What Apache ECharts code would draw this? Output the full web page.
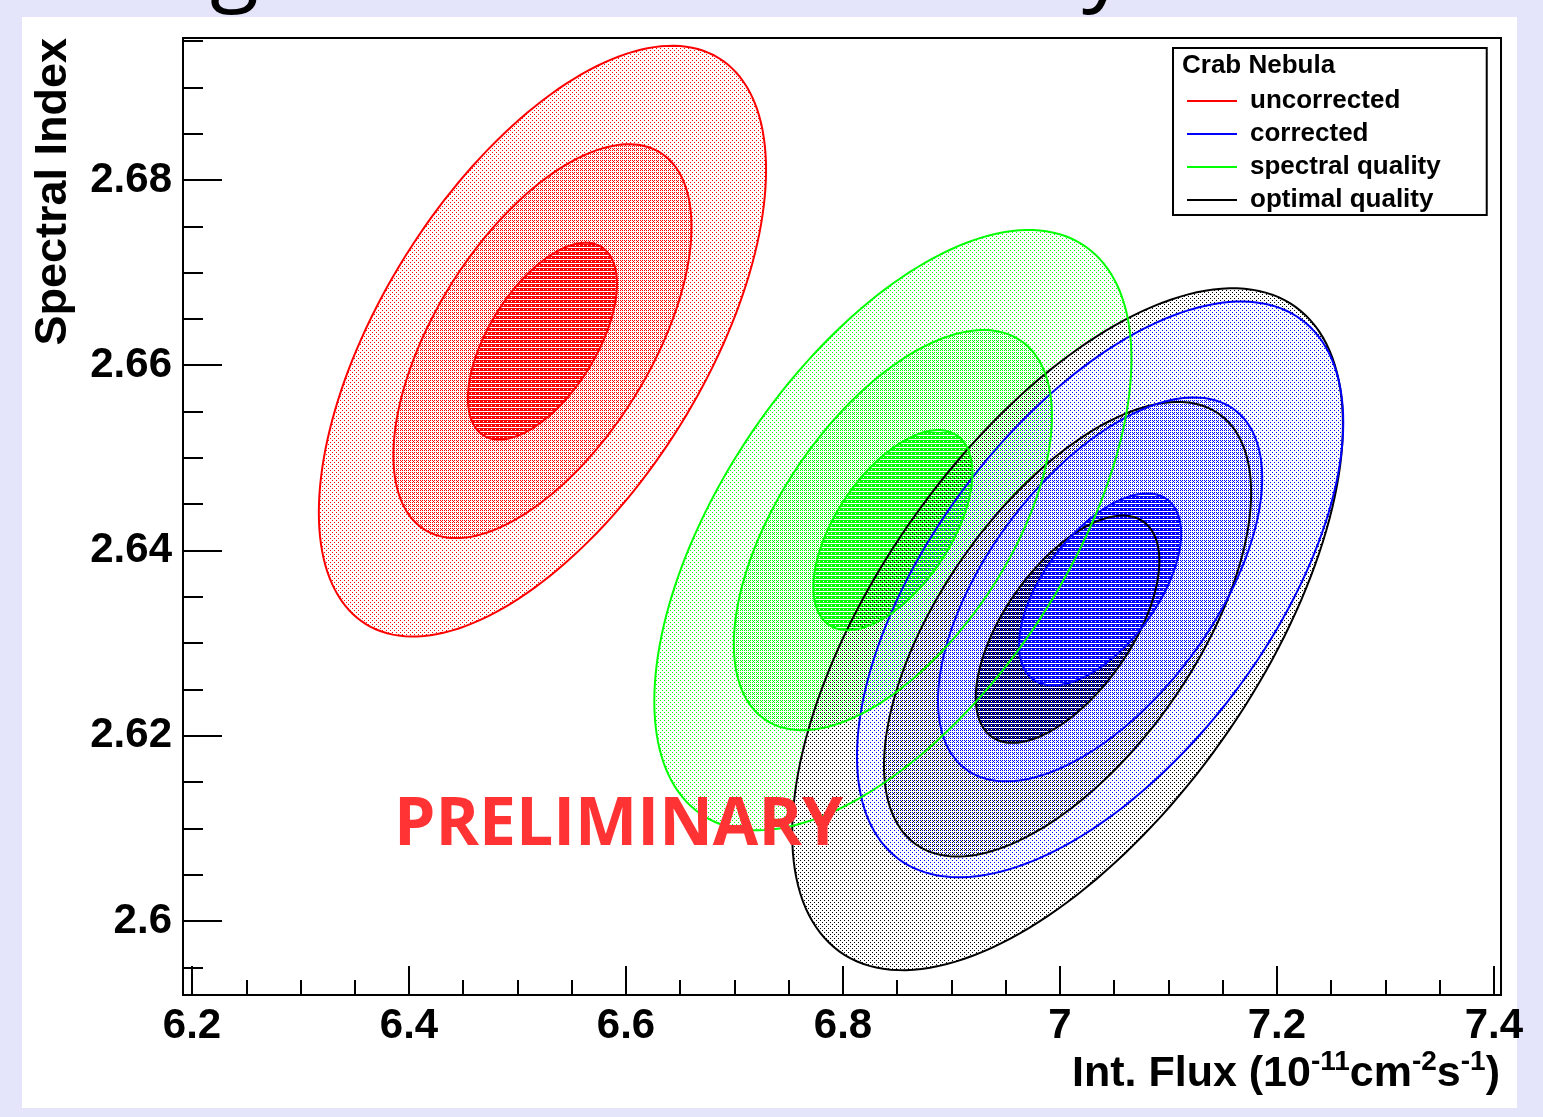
<!DOCTYPE html>
<html>
<head>
<meta charset="UTF-8">
<title>Crab Nebula</title>
<script src="https://cdn.jsdelivr.net/npm/echarts@6/dist/echarts.min.js"></script>
<style>
* { padding: 0; margin: 0; }
#main { width: 1543px; height: 1117px; }
</style>
</head>
<body>
<div id="main"></div>
<script>
// fit results, one entry per data set
var names = ['uncorrected', 'corrected', 'spectral quality', 'optimal quality'];
var colors = ['#ff0000', '#0000ff', '#00ff00', '#000000'];
var fluxMean = [6.523, 7.037, 6.846, 7.007];
var indexMean = [2.6626, 2.6358, 2.6422, 2.6315];
var fluxSigma = [0.0687, 0.0747, 0.0733, 0.0846];
var indexSigma = [0.01063, 0.01036, 0.0108, 0.01227];
var rho = [0.58, 0.58, 0.57, 0.6];
var sigmaLevels = [3, 2, 1];

// axis ticks
var xMajor = [6.2, 6.4, 6.6, 6.8, 7, 7.2, 7.4];
var xMinor = [6.25, 6.3, 6.35, 6.45, 6.5, 6.55, 6.65, 6.7, 6.75, 6.85, 6.9, 6.95,
              7.05, 7.1, 7.15, 7.25, 7.3, 7.35];
var yMajor = [2.6, 2.62, 2.64, 2.66, 2.68];
var yMinor = [2.595, 2.605, 2.61, 2.615, 2.625, 2.63, 2.635, 2.645, 2.65, 2.655,
              2.665, 2.67, 2.675, 2.685, 2.69, 2.695];

var FONT = 'Liberation Sans';

// dotted fill patterns, like the root hatch styles
var dotCells = {
    3: [[0, 0], [2, 2]],
    2: [[2, 0], [0, 2], [1, 1]],
    1: [[1, 0], [3, 0], [0, 1], [2, 1], [1, 2], [3, 2]]
};
function dots(color, cells) {
    var c = document.createElement('canvas');
    c.width = 4;
    c.height = 4;
    var g = c.getContext('2d');
    g.fillStyle = color;
    cells.forEach(function (p) { g.fillRect(p[0], p[1], 1, 1); });
    return { image: c, repeat: 'repeat' };
}
var fills = colors.map(function (col) {
    return { 3: dots(col, dotCells[3]), 2: dots(col, dotCells[2]), 1: dots(col, dotCells[1]) };
});

// one contour series; part = 'fill' or 'line'
function ellipseSeries(i, part) {
    return {
        type: 'custom',
        name: names[i],
        coordinateSystem: 'cartesian2d',
        xAxisIndex: 0,
        yAxisIndex: 0,
        clip: true,
        silent: true,
        itemStyle: { color: colors[i] },
        data: sigmaLevels.map(function (k) { return [fluxMean[i], indexMean[i], k]; }),
        encode: { x: 0, y: 1 },
        renderItem: function (params, api) {
            var k = api.value(2);
            var r = rho[i];
            var pts = [];
            for (var a = 0; a < 360; a += 2) {
                var t = a * Math.PI / 180;
                var fx = fluxMean[i] + k * fluxSigma[i] * Math.cos(t);
                var fy = indexMean[i] + k * indexSigma[i] * (r * Math.cos(t) + Math.sqrt(1 - r * r) * Math.sin(t));
                pts.push(api.coord([fx, fy]));
            }
            var style = part === 'fill'
                ? { fill: fills[i][k], stroke: null }
                : { fill: null, stroke: colors[i], lineWidth: 2 };
            return { type: 'polygon', shape: { points: pts }, style: style };
        }
    };
}

var labelStyle = { fontFamily: FONT, fontWeight: 'bold', fontSize: 42, color: '#000' };

var myChart = echarts.init(document.getElementById('main'));
myChart.setOption({
    animation: false,
    backgroundColor: '#e4e4fa',
    grid: {
        left: 183, right: 42, top: 38, bottom: 122,
        show: true, borderColor: '#000', borderWidth: 2, backgroundColor: 'transparent'
    },
    xAxis: [{
        type: 'value', min: 6.1917, max: 7.4065, position: 'bottom',
        axisLine: { show: false }, splitLine: { show: false },
        axisTick: { inside: true, length: 29, customValues: xMajor, lineStyle: { color: '#000', width: 2 } },
        axisLabel: Object.assign({ customValues: xMajor, margin: 10 }, labelStyle)
    }, {
        type: 'value', min: 6.1917, max: 7.4065, position: 'bottom',
        axisLine: { show: false }, splitLine: { show: false },
        axisTick: { inside: true, length: 15, customValues: xMinor, lineStyle: { color: '#000', width: 2 } },
        axisLabel: { show: false }
    }],
    yAxis: [{
        type: 'value', min: 2.59201, max: 2.69533, position: 'left',
        axisLine: { show: false }, splitLine: { show: false },
        axisTick: { inside: true, length: 39, customValues: yMajor, lineStyle: { color: '#000', width: 2 } },
        axisLabel: Object.assign({ customValues: yMajor, margin: 11 }, labelStyle)
    }, {
        type: 'value', min: 2.59201, max: 2.69533, position: 'left',
        axisLine: { show: false }, splitLine: { show: false },
        axisTick: { inside: true, length: 20, customValues: yMinor, lineStyle: { color: '#000', width: 2 } },
        axisLabel: { show: false }
    }],
    legend: {
        left: 1173, top: 48, orient: 'vertical',
        data: names,
        icon: 'rect', itemWidth: 50, itemHeight: 2, itemGap: 7,
        padding: [40, 46, 2, 14],
        borderColor: '#000', borderWidth: 2, backgroundColor: '#fff',
        selectedMode: false,
        textStyle: { fontFamily: FONT, fontWeight: 'bold', fontSize: 26, color: '#000', padding: [0, 0, 0, 8] }
    },
    graphic: [{
        type: 'rect', z: -1, silent: true,
        shape: { x: 22, y: 17, width: 1495, height: 1091 },
        style: { fill: '#fff' }
    }, {
        type: 'text', z: -1, left: 210, top: -78,
        style: { text: 'g', font: '90px "Open Sans"', fill: '#000' }
    }, {
        type: 'text', z: -1, left: 1082, top: -78,
        style: { text: 'y', font: '90px "Open Sans"', fill: '#000' }
    }, {
        type: 'text', z: 10, x: 54, y: 38, rotation: Math.PI / 2,
        style: {
            text: 'Spectral Index', font: 'bold 45px "Liberation Sans"', fill: '#000',
            align: 'right', verticalAlign: 'middle'
        }
    }, {
        type: 'text', z: 10, x: 1500, y: 1100,
        style: {
            text: '{m|Int. Flux (10}{s|-11}{m|cm}{s|-2}{m|s}{s|-1}{m|)}',
            align: 'right', verticalAlign: 'bottom', fill: '#000',
            rich: {
                m: { fontFamily: FONT, fontWeight: 'bold', fontSize: 43, lineHeight: 52 },
                s: { fontFamily: FONT, fontWeight: 'bold', fontSize: 28, verticalAlign: 'top' }
            }
        }
    }, {
        type: 'text', z: 10, x: 1182, y: 66,
        style: {
            text: 'Crab Nebula', font: 'bold 26px "Liberation Sans"', fill: '#000',
            verticalAlign: 'middle'
        }
    }, {
        type: 'text', z: 20, x: 394, y: 826,
        style: {
            text: 'PRELIMINARY', font: 'bold 66px "Open Sans"', fill: '#ff3333',
            verticalAlign: 'middle'
        }
    }],
    // fills back to front, then all contour lines on top
    series: [
        ellipseSeries(2, 'fill'), ellipseSeries(3, 'fill'), ellipseSeries(1, 'fill'), ellipseSeries(0, 'fill'),
        ellipseSeries(3, 'line'), ellipseSeries(1, 'line'), ellipseSeries(2, 'line'), ellipseSeries(0, 'line')
    ]
});
</script>
</body>
</html>
